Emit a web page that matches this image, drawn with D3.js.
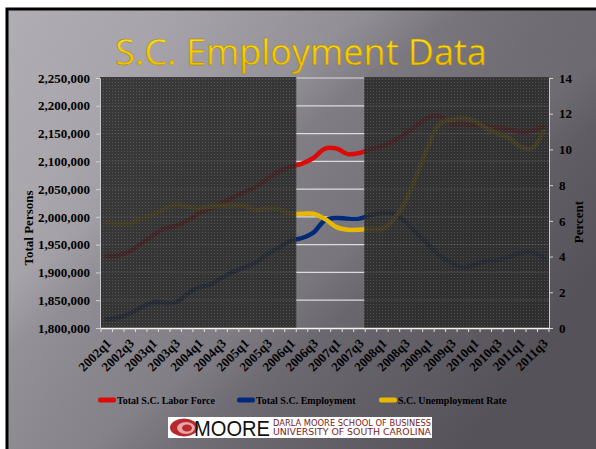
<!DOCTYPE html>
<html><head><meta charset="utf-8">
<script src="https://cdn.jsdelivr.net/npm/d3@7"></script>
<style>body{margin:0;background:#fff;overflow:hidden} svg{display:block}</style>
</head><body><svg id="c" width="596" height="449"></svg>
<script>
const quarters = ["2002q1","2002q2","2002q3","2002q4","2003q1","2003q2","2003q3","2003q4",
  "2004q1","2004q2","2004q3","2004q4","2005q1","2005q2","2005q3","2005q4",
  "2006q1","2006q2","2006q3","2006q4","2007q1","2007q2","2007q3","2007q4",
  "2008q1","2008q2","2008q3","2008q4","2009q1","2009q2","2009q3","2009q4",
  "2010q1","2010q2","2010q3","2010q4","2011q1","2011q2","2011q3"];
const laborForce = [1929000,1931000,1938000,1952000,1966000,1979000,1984000,1993000,
  2006000,2015000,2025000,2035000,2045000,2054000,2069000,2082000,
  2090000,2096000,2106000,2123000,2123000,2113000,2115000,2122000,
  2128000,2137000,2150000,2165000,2179000,2181000,2168000,2166000,
  2166000,2164000,2160000,2158000,2153000,2155000,2162000];
const employment = [1816000,1819000,1826000,1837000,1846000,1846000,1846000,1861000,
  1873000,1878000,1890000,1901000,1909000,1918000,1933000,1945000,
  1957000,1962000,1972000,1994000,1998000,1997000,1997000,2003000,
  2007000,2006000,1991000,1970000,1950000,1930000,1918000,1909000,
  1914000,1920000,1922000,1928000,1935000,1937000,1927000];
const unemploymentRate = [5.9,5.85,5.85,6.15,6.35,6.65,6.9,6.8,
  6.7,6.8,6.85,6.85,6.85,6.6,6.7,6.65,
  6.4,6.4,6.4,6.1,5.65,5.5,5.5,5.55,
  5.55,6.1,7.1,8.6,10.2,11.45,11.65,11.75,
  11.6,11.2,10.9,10.65,10.15,10.05,11.0];
const leftTicks = [1800000,1850000,1900000,1950000,2000000,2050000,2100000,2150000,2200000,2250000];
const rightTicks = [0,2,4,6,8,10,12,14];
const xLabels = quarters.filter((q,i)=>i%2===0);
const shadedRanges = [["2002q1","2006q1"],["2007q4","2011q3"]];
const seriesNames = ["Total S.C. Labor Force","Total S.C. Employment","S.C. Unemployment Rate"];
const seriesColors = ["#dd0a0a","#002a78","#e8b800"];

const svg = d3.select("#c");
const defs = svg.append("defs");
const bg = defs.append("linearGradient").attr("id","bg").attr("x1","0").attr("y1","0").attr("x2","1").attr("y2","0.55");
[["0","#b0adb4"],["0.22","#a19ea5"],["0.45","#85828a"],["0.7","#6b6870"],["1","#555259"]]
  .forEach(s=>bg.append("stop").attr("offset",s[0]).attr("stop-color",s[1]));
const streak = defs.append("linearGradient").attr("id","streak").attr("x1","0").attr("y1","0").attr("x2","1").attr("y2","1");
[["0","rgba(255,255,255,0)"],["0.3","rgba(255,255,255,0.10)"],["0.38","rgba(255,255,255,0)"],["0.55","rgba(255,255,255,0.06)"],["0.62","rgba(255,255,255,0)"],["1","rgba(255,255,255,0)"]]
  .forEach(s=>streak.append("stop").attr("offset",s[0]).attr("stop-color",s[1]));
const tg = defs.append("linearGradient").attr("id","tg").attr("x1","0").attr("y1","0").attr("x2","0").attr("y2","1");
[["0","#ffe640"],["0.55","#f6cc00"],["1","#e8b400"]].forEach(s=>tg.append("stop").attr("offset",s[0]).attr("stop-color",s[1]));
const pat = defs.append("pattern").attr("id","dots").attr("width",3).attr("height",3).attr("patternUnits","userSpaceOnUse");
pat.append("rect").attr("width",3).attr("height",3).attr("fill","#2a2a2a");
pat.append("rect").attr("x",1).attr("y",1).attr("width",1).attr("height",1).attr("fill","#4e4e4e");

// slide
svg.append("rect").attr("x",7).attr("y",9).attr("width",600).attr("height",450).attr("fill","url(#bg)").attr("stroke","#000").attr("stroke-width",3);
svg.append("rect").attr("x",8).attr("y",10).attr("width",600).attr("height",450).attr("fill","url(#streak)");

svg.append("text").attr("x",301).attr("y",65).attr("text-anchor","middle")
  .attr("font-family","Open Sans").attr("font-size",36).attr("font-weight",500).attr("fill","url(#tg)")
  .attr("stroke","#a07a00").attr("stroke-width",0.4).text("S.C. Employment Data");

const x = d3.scaleBand().domain(quarters).range([101,549]);
const cx = q => x(q)+x.bandwidth()/2;
const yL = d3.scaleLinear().domain([1800000,2250000]).range([328,78]);
const yR = d3.scaleLinear().domain([0,14]).range([328,78]);

// gridlines
svg.append("g").selectAll("line").data(leftTicks.slice(1)).join("line")
  .attr("x1",101).attr("x2",549).attr("y1",d=>yL(d)).attr("y2",d=>yL(d))
  .attr("stroke","#dcdcdc").attr("stroke-width",1.2);

// lines
const lineL = d3.line().x((d,i)=>cx(quarters[i])).y(d=>yL(d)).curve(d3.curveCatmullRom.alpha(0.5));
const lineR = d3.line().x((d,i)=>cx(quarters[i])).y(d=>yR(d)).curve(d3.curveCatmullRom.alpha(0.5));
const lg = svg.append("g").attr("fill","none").attr("stroke-width",4.5).attr("stroke-linejoin","round").attr("stroke-linecap","round");
lg.append("path").attr("d",lineL(laborForce)).attr("stroke",seriesColors[0]);
lg.append("path").attr("d",lineL(employment)).attr("stroke",seriesColors[1]);
lg.append("path").attr("d",lineR(unemploymentRate)).attr("stroke",seriesColors[2]);

// shaded overlays
svg.append("g").selectAll("rect").data(shadedRanges).join("rect")
  .attr("x",d=>x(d[0])-1).attr("y",77)
  .attr("width",d=>x(d[1])+x.bandwidth()-x(d[0])+1).attr("height",251.5)
  .attr("fill","url(#dots)").attr("opacity",0.88);

// axes
const fontSerif = "Liberation Serif";
const axL = svg.append("g").attr("transform","translate(100,0)")
  .call(d3.axisLeft(yL).tickValues(leftTicks).tickFormat(d3.format(",")).tickSize(4).tickPadding(6));
axL.select(".domain").attr("stroke","#c8c8c8");
axL.selectAll(".tick line").attr("stroke","#d0d0d0");
axL.selectAll("text").attr("font-family",fontSerif).attr("font-weight","bold").attr("font-size",13).attr("fill","#000");

const axR = svg.append("g").attr("transform","translate(549,0)")
  .call(d3.axisRight(yR).tickValues(rightTicks).tickSize(4).tickPadding(6));
axR.select(".domain").attr("stroke","#c8c8c8");
axR.selectAll(".tick line").attr("stroke","#d0d0d0");
axR.selectAll("text").attr("font-family",fontSerif).attr("font-weight","bold").attr("font-size",13).attr("fill","#000");

// bottom axis line and ticks
svg.append("line").attr("x1",101).attr("x2",549).attr("y1",328.5).attr("y2",328.5).attr("stroke","#f4f4f4").attr("stroke-width",1.5);
const bounds = quarters.map(q=>x(q)).concat([x.range()[1]]);
svg.append("g").selectAll("line").data(bounds).join("line")
  .attr("x1",d=>d).attr("x2",d=>d).attr("y1",328).attr("y2",332).attr("stroke","#e0e0e0");
svg.append("g").selectAll("text").data(xLabels).join("text")
  .attr("transform",d=>`translate(${cx(d)+2},${341}) rotate(-45)`)
  .attr("text-anchor","end").attr("dy","0.35em")
  .attr("font-family",fontSerif).attr("font-weight","bold").attr("font-size",13).attr("fill","#000")
  .text(d=>d);

svg.append("text").attr("transform","translate(33,228) rotate(-90)").attr("text-anchor","middle")
  .attr("font-family",fontSerif).attr("font-weight","bold").attr("font-size",13).text("Total Persons");
svg.append("text").attr("transform","translate(583,222) rotate(-90)").attr("text-anchor","middle")
  .attr("font-family",fontSerif).attr("font-weight","bold").attr("font-size",13).text("Percent");

// legend
const legX = [98,237,379];
const leg = svg.append("g").selectAll("g").data(seriesNames).join("g")
  .attr("transform",(d,i)=>`translate(${legX[i]},400)`);
leg.append("rect").attr("x",0).attr("y",-2.5).attr("width",18).attr("height",5).attr("rx",2).attr("fill",(d,i)=>seriesColors[i]);
leg.append("text").attr("x",19).attr("y",0).attr("dy","0.35em")
  .attr("font-family",fontSerif).attr("font-weight","bold").attr("font-size",10).attr("fill","#000").text(d=>d);

// logo
const logo = svg.append("g");
logo.append("rect").attr("x",168).attr("y",417).attr("width",264).attr("height",21).attr("fill","#fff");
logo.append("ellipse").attr("cx",184).attr("cy",427.5).attr("rx",14).attr("ry",9).attr("fill","#b8282c");
logo.append("ellipse").attr("cx",186).attr("cy",428).attr("rx",9).attr("ry",6).attr("fill","#e5a6a6");
logo.append("ellipse").attr("cx",187).attr("cy",428).attr("rx",5).attr("ry",3.5).attr("fill","#b8282c");
logo.append("text").attr("x",194).attr("y",436).attr("font-family","Liberation Sans").attr("font-size",22)
  .attr("fill","#111").attr("textLength",76).attr("lengthAdjust","spacingAndGlyphs").text("MOORE");
logo.append("text").attr("x",273).attr("y",426).attr("font-family","DejaVu Sans").attr("font-size",8)
  .attr("fill","#7a1c1c").attr("textLength",158).attr("lengthAdjust","spacingAndGlyphs").text("DARLA MOORE SCHOOL OF BUSINESS");
logo.append("text").attr("x",273).attr("y",435).attr("font-family","DejaVu Sans").attr("font-size",8)
  .attr("fill","#7a1c1c").attr("textLength",158).attr("lengthAdjust","spacingAndGlyphs").text("UNIVERSITY OF SOUTH CAROLINA");
</script></body></html>
